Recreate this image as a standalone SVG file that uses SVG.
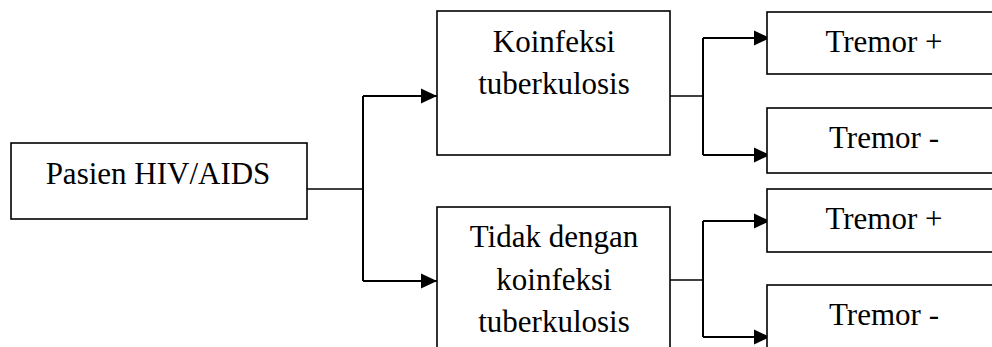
<svg xmlns="http://www.w3.org/2000/svg" width="992" height="347" viewBox="0 0 992 347">
<style>
.box{fill:#fff;stroke:#000;stroke-width:1.6}
.t{font-family:"Liberation Serif","Times New Roman",serif;font-size:31px;fill:#000;text-anchor:middle}
.c{fill:none;stroke:#000;stroke-width:2}
.c1{fill:none;stroke:#000;stroke-width:1.3}
</style>
<defs>
<marker id="ah" markerUnits="userSpaceOnUse" markerWidth="16" markerHeight="16" viewBox="0 0 16 16" refX="16" refY="8" orient="auto">
<path d="M0,0.5 L16,8 L0,15.5 Z" fill="#000"/>
</marker>
</defs>
<g id="connectors">
<path class="c1" d="M307,189 H363"/>
<path class="c" d="M363,96 V281"/>
<path class="c" d="M363,96 H437" marker-end="url(#ah)"/>
<path class="c" d="M363,281 H437" marker-end="url(#ah)"/>
<path class="c1" d="M670,96 H703"/>
<path class="c" d="M703,38 V155"/>
<path class="c" d="M703,38 H770" marker-end="url(#ah)"/>
<path class="c" d="M703,155 H770" marker-end="url(#ah)"/>
<path class="c1" d="M670,280 H703"/>
<path class="c" d="M703,221 V337"/>
<path class="c" d="M703,221 H770" marker-end="url(#ah)"/>
<path class="c" d="M703,337 H770" marker-end="url(#ah)"/>
</g>
<g id="pasien">
<rect class="box" x="11" y="143" width="296" height="76"/>
<text class="t" x="158" y="184">Pasien HIV/AIDS</text>
</g>
<g id="koinfeksi">
<rect class="box" x="437" y="11" width="233" height="144"/>
<text class="t" x="554" y="52">Koinfeksi</text>
<text class="t" x="554" y="94">tuberkulosis</text>
</g>
<g id="tidak">
<rect class="box" x="437" y="207" width="233" height="160"/>
<text class="t" x="554" y="247">Tidak dengan</text>
<text class="t" x="554" y="290">koinfeksi</text>
<text class="t" x="554" y="332">tuberkulosis</text>
</g>
<g id="tremor1">
<rect class="box" x="767" y="12" width="240" height="62"/>
<text class="t" x="884" y="52">Tremor +</text>
</g>
<g id="tremor2">
<rect class="box" x="767" y="108" width="240" height="65"/>
<text class="t" x="884" y="148">Tremor -</text>
</g>
<g id="tremor3">
<rect class="box" x="767" y="189" width="240" height="63"/>
<text class="t" x="884" y="229">Tremor +</text>
</g>
<g id="tremor4">
<rect class="box" x="767" y="285" width="240" height="80"/>
<text class="t" x="884" y="325">Tremor -</text>
</g>
</svg>
